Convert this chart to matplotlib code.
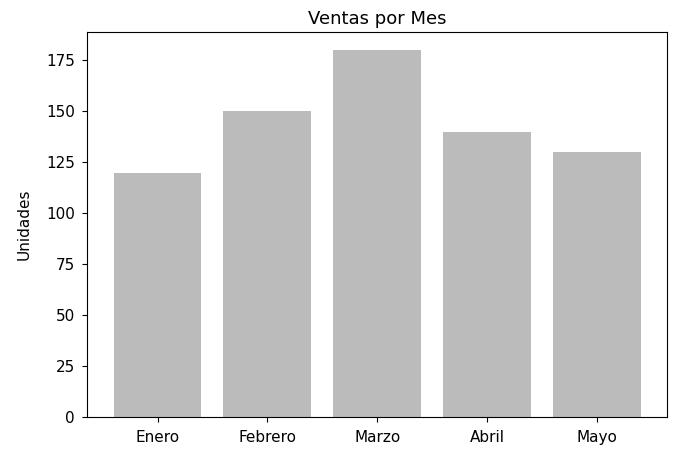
import matplotlib
matplotlib.use("Agg")
import matplotlib.pyplot as plt

# datos
meses = ['Enero', 'Febrero', 'Marzo', 'Abril', 'Mayo']
unidades = [120, 150, 180, 140, 130]

fig, ax = plt.subplots(figsize=(6.87, 4.5), dpi=100)
fig.subplots_adjust(left=0.127, right=0.971, bottom=0.073, top=0.929)

ax.bar(meses, unidades, color='#bbbbbb')
ax.set_title('Ventas por Mes', fontsize=13)
ax.set_ylabel('Unidades', fontsize=11, labelpad=10)
ax.tick_params(labelsize=11, pad=5.5)

fig.savefig('out.png')
